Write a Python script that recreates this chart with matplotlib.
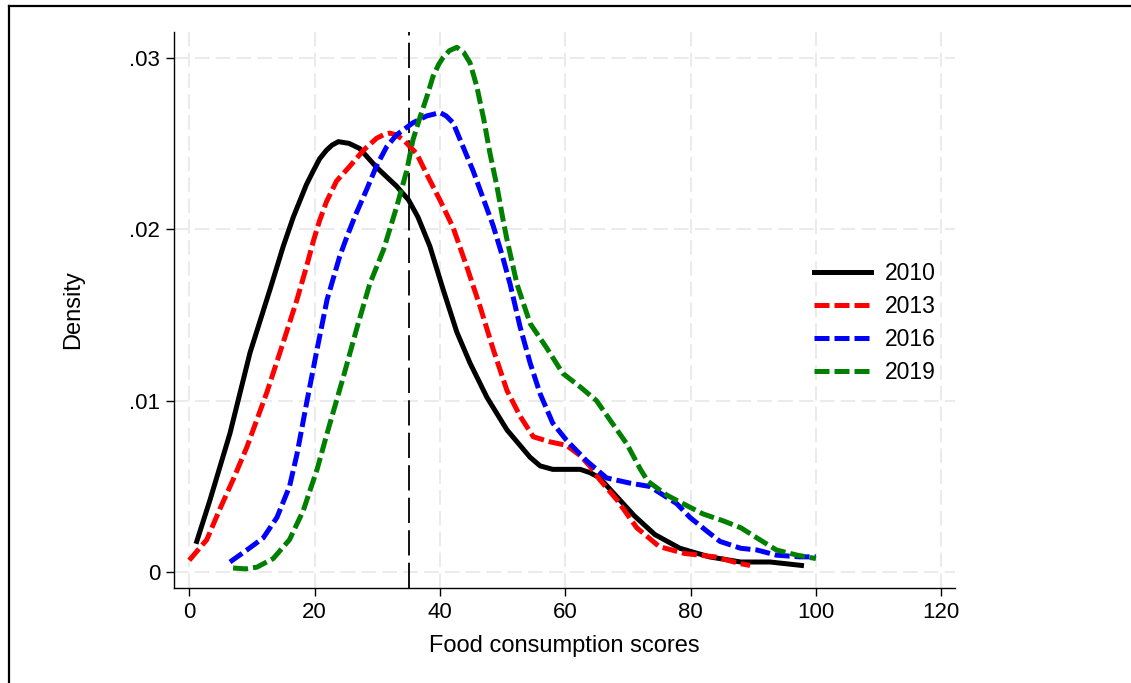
import matplotlib
matplotlib.use("Agg")
import matplotlib.pyplot as plt
from matplotlib.lines import Line2D

plt.rcParams['font.family'] = ['Liberation Sans', 'DejaVu Sans']

# kernel density curves
x_2010 = [1.2, 3.3, 6.5, 9.7, 12.9, 15, 16.6, 18.7, 19.8, 20.8, 21.9, 22.8, 23.8, 25.5, 27.2, 29.9,
          33.1, 35.0, 36.5, 38.4, 40.5, 42.7, 44.8, 47.5, 50.7, 54.4, 56, 58, 60, 62.4, 64, 65.5,
          67, 68, 71, 74.3, 78.3, 83, 88, 92.7, 97.7]
y_2010 = [.0018, .0042, .0081, .0128, .0165, .0190, .0207, .0226, .0234, .0241, .0246, .0249, .0251,
          .0250, .0247, .0236, .0225, .0217, .0207, .0190, .0165, .0140, .0122, .0102, .0083, .0067,
          .0062, .0060, .0060, .0060, .0058, .0055, .0049, .0045, .0033, .0022, .0014, .0009, .0006,
          .0006, .0004]

x_2013 = [0, 2.8, 4.9, 7, 9.2, 12.4, 15, 17.2, 18.7, 19.8, 20.8, 21.9, 23.5, 25.7, 27.8, 29.9,
          31, 32, 33, 34.2, 36.3, 37.9, 40, 42.1, 44.3, 46.4, 48.5, 50.7, 52.8, 54.9, 57.6, 60.2,
          62.4, 63.9, 65.5, 68.3, 71.4, 75, 79, 83.9, 88, 89.5]
y_2013 = [.0007, .0019, .0037, .0054, .0073, .0105, .0134, .0159, .0178, .0193, .0205, .0216, .0228,
          .0237, .0246, .0253, .0255, .0256, .0255, .0252, .0244, .0232, .0217, .0201, .0178, .0155,
          .0130, .0106, .0091, .0079, .0076, .0074, .0068, .0062, .0054, .0042, .0026, .0015, .0011,
          .0009, .0005, .0004]

x_2016 = [6.5, 9.2, 11.8, 14, 16, 17.2, 18.8, 20.4, 22, 24, 25.1, 26.5, 28.3, 29.9, 31.5, 33.1,
          35.7, 37.9, 39, 40, 41, 42.1, 43.7, 45.3, 47, 48.5, 50, 51.2, 52.8, 54.4, 56, 58, 60.2,
          63.4, 66.6, 70.3, 73.5, 77.8, 79.9, 82.6, 84.7, 88, 90.6, 93.7, 97.4, 100]
y_2016 = [.0006, .0013, .0020, .0032, .0050, .0069, .0100, .0130, .0159, .0184, .0195, .0208, .0223,
          .0237, .0248, .0255, .0262, .0266, .0267, .0268, .0266, .0262, .0248, .0234, .0217, .0202,
          .0184, .0168, .0143, .0122, .0104, .0087, .0077, .0065, .0055, .0052, .0050, .0040, .0032,
          .0024, .0018, .0014, .0013, .0010, .0009, .0009]

x_2019 = [7, 9, 10.8, 13.4, 16, 18.2, 20.4, 22, 24.6, 26.8, 28.8, 31, 33.1, 34.7, 35.7, 36.8, 37.9,
          38.9, 39.8, 40.5, 41.5, 42.7, 43.8, 44.8, 45.9, 47, 48, 49.1, 50.1, 50.7, 52.3, 54.4, 57,
          59.6, 62.4, 65, 67.1, 69.8, 72, 73.2, 76.2, 78.8, 82, 85.2, 88, 90.6, 93.7, 97, 100]
y_2019 = [.00025, .0002, .0003, .0008, .0019, .0036, .0060, .0081, .0114, .0143, .0168, .0188, .0213,
          .0234, .0252, .0265, .0277, .0289, .0296, .0300, .0304, .0306, .0303, .0297, .0283, .0264,
          .0244, .0225, .0205, .0194, .0168, .0145, .0131, .0116, .0108, .0100, .0089, .0075, .0060,
          .0053, .0045, .0040, .0034, .0030, .0026, .0020, .0013, .0010, .0008]

years = ['2010', '2013', '2016', '2019']
colors = ['black', 'red', 'blue', 'green']
cutoff = 35
x_ticks = [0, 20, 40, 60, 80, 100, 120]
y_ticks = [0, 0.01, 0.02, 0.03]
y_tick_labels = ['0', '.01', '.02', '.03']

fig = plt.figure(figsize=(11.31, 6.83), dpi=100)
ax = fig.add_axes([0.1538, 0.1391, 0.6906, 0.814])

ax.axvline(cutoff, color='black', lw=1.3, dashes=(14, 4), zorder=2)

series = [(x_2010, y_2010), (x_2013, y_2013), (x_2016, y_2016), (x_2019, y_2019)]
for (xs, ys), yr, c in zip(series, years, colors):
    if yr == '2010':
        ax.plot(xs, ys, color=c, lw=3.6, label=yr, zorder=3, solid_joinstyle='round')
    else:
        ax.plot(xs, ys, color=c, lw=3.6, dashes=(3.0, 1.0), label=yr, zorder=3)

ax.set_xlim(-2.44, 122.2)
ax.set_ylim(-0.000915, 0.03149)
ax.set_xticks(x_ticks)
ax.set_yticks(y_ticks)
ax.set_yticklabels(y_tick_labels)
ax.grid(True, color='#ebebeb', lw=1.5, dashes=(7, 3))
ax.set_axisbelow(True)

for s in ['top', 'right']:
    ax.spines[s].set_visible(False)
for s in ['left', 'bottom']:
    ax.spines[s].set_linewidth(1.0)
ax.tick_params(direction='out', length=6, width=1, labelsize=16, pad=4)

ax.set_xlabel('Food consumption scores', fontsize=17, labelpad=9)
ax.set_ylabel('Density', fontsize=17)
ax.yaxis.set_label_coords(-0.115, 0.5)

ax.legend(loc='center left', bbox_to_anchor=(0.8195, 0.4766), frameon=False,
          fontsize=16.5, handlelength=2.5, handletextpad=0.6, labelspacing=0.45,
          borderpad=0, borderaxespad=0)

# outer frame, cropped on the right and bottom
fig.add_artist(Line2D([9 / 1131, 1.0], [677 / 683, 677 / 683], color='black', lw=1.6,
                      transform=fig.transFigure))
fig.add_artist(Line2D([9 / 1131, 9 / 1131], [0, 677 / 683], color='black', lw=1.6,
                      transform=fig.transFigure))

fig.savefig('out.png', dpi=100)
